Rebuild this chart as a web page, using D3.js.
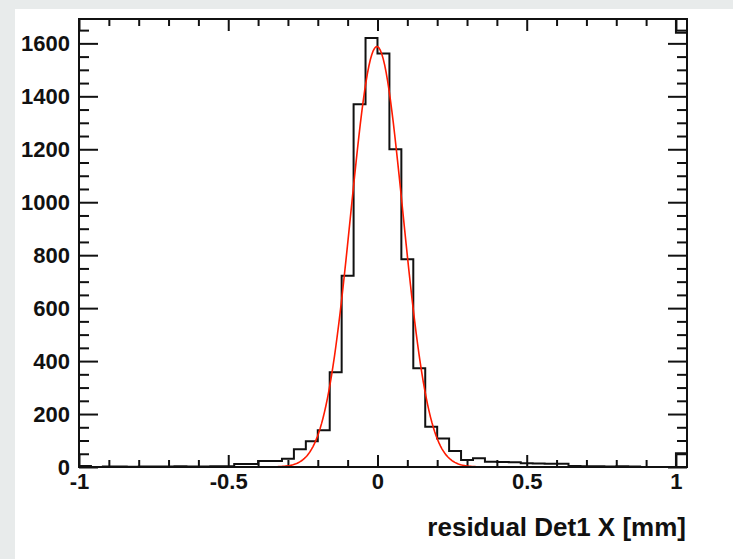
<!DOCTYPE html>
<html>
<head>
<meta charset="utf-8">
<script src="https://cdn.jsdelivr.net/npm/d3@7"></script>
<style>
  html, body { margin: 0; padding: 0; background: #e8ebeb; }
  svg { display: block; }
  text { font-family: "Liberation Sans", Arial, Helvetica, sans-serif; font-weight: bold; fill: #111; }
</style>
</head>
<body>
<script>
// ---- data ----
const binStart = -1.0;
const binWidth = 0.04;
// counts per bin, from x=-1.00 to x=1.04 (51 bins)
const counts = [
  4, 0, 2, 2, 1, 2, 2, 2, 3, 2, 2, 3, 3,      // -1.00 .. -0.52
  11, 11, 23, 23, 31, 67, 97, 139, 358, 722, 1370, 1620, // -0.48 .. -0.04
  1562, 1200, 785, 373, 152, 108, 60, 26, 33, 20, 19, 18, // 0.00 .. 0.44
  14, 13, 12, 12, 4, 3, 3, 2, 3, 2, 0, 0, 0,  // 0.48 .. 0.96
  52                                          // 1.00
];
// Gaussian fit parameters
const fitConstant = 1588;
const fitMean = -0.002;
const fitSigma = 0.087;
const fitRange = [-0.48, 0.48];

const xDomain = [-1, 1.037];
const yDomain = [0, 1692];
const xMajorTicks = [-1, -0.5, 0, 0.5, 1];
const xTickLabels = ["-1", "-0.5", "0", "0.5", "1"];
const yMajorTicks = [0, 200, 400, 600, 800, 1000, 1200, 1400, 1600];
const xMinorStep = 0.1;
const yMinorStep = 50;
const xTitle = "residual Det1 X [mm]";

// ---- layout ----
const W = 733, H = 559;
const frame = { left: 79, right: 687, top: 19, bottom: 467 };

const svg = d3.select("body").append("svg").attr("width", W).attr("height", H);

// slide-like background
svg.append("rect").attr("x", 15).attr("y", 9).attr("width", W - 15).attr("height", H - 9).attr("fill", "#fff");

const x = d3.scaleLinear().domain(xDomain).range([frame.left, frame.right]);
const y = d3.scaleLinear().domain(yDomain).range([frame.bottom, frame.top]);

const xMinor = d3.range(-1, 1.0001, xMinorStep).map(v => +v.toFixed(2)).filter(v => !xMajorTicks.some(m => Math.abs(m - v) < 1e-6));
const yMinor = d3.range(0, yDomain[1], yMinorStep).filter(v => v % 200 !== 0);

function styleAxis(g) {
  g.select(".domain").remove();
  g.selectAll(".tick line").attr("stroke", "#111").attr("stroke-width", 2);
  g.selectAll("text").attr("font-size", 22).attr("fill", "#111");
}

// left axis
svg.append("g").attr("transform", `translate(${frame.left},0)`)
  .call(d3.axisLeft(y).tickValues(yMajorTicks).tickSize(-19).tickPadding(9).tickFormat(d3.format("d")))
  .call(styleAxis);
svg.append("g").attr("transform", `translate(${frame.left},0)`)
  .call(d3.axisLeft(y).tickValues(yMinor).tickSize(-10).tickFormat(""))
  .call(styleAxis);
// right axis
svg.append("g").attr("transform", `translate(${frame.right},0)`)
  .call(d3.axisRight(y).tickValues(yMajorTicks).tickSize(-19).tickFormat(""))
  .call(styleAxis);
svg.append("g").attr("transform", `translate(${frame.right},0)`)
  .call(d3.axisRight(y).tickValues(yMinor).tickSize(-10).tickFormat(""))
  .call(styleAxis);
// bottom axis
svg.append("g").attr("transform", `translate(0,${frame.bottom})`)
  .call(d3.axisBottom(x).tickValues(xMajorTicks).tickSize(-12).tickPadding(6).tickFormat((d, i) => xTickLabels[i]))
  .call(styleAxis);
svg.append("g").attr("transform", `translate(0,${frame.bottom})`)
  .call(d3.axisBottom(x).tickValues(xMinor).tickSize(-7).tickFormat(""))
  .call(styleAxis);
// top axis
svg.append("g").attr("transform", `translate(0,${frame.top})`)
  .call(d3.axisTop(x).tickValues(xMajorTicks).tickSize(-12).tickFormat(""))
  .call(styleAxis);
svg.append("g").attr("transform", `translate(0,${frame.top})`)
  .call(d3.axisTop(x).tickValues(xMinor).tickSize(-7).tickFormat(""))
  .call(styleAxis);

// histogram outline
const pts = [[binStart, 0]];
counts.forEach((c, i) => {
  const x0 = binStart + i * binWidth;
  pts.push([x0, c], [x0 + binWidth, c]);
});
pts.push([binStart + counts.length * binWidth, 0]);
svg.append("path")
  .attr("d", d3.line().x(d => x(Math.min(d[0], xDomain[1]))).y(d => y(d[1]))(pts))
  .attr("fill", "none").attr("stroke", "#111").attr("stroke-width", 2);

// corner box at top right (mirrors last bin)
const last = counts[counts.length - 1];
const lastX0 = binStart + (counts.length - 1) * binWidth;
svg.append("path")
  .attr("d", d3.line()([[x(lastX0), y(yDomain[1])], [x(lastX0), y(yDomain[1] - last)], [x(xDomain[1]), y(yDomain[1] - last)]]))
  .attr("fill", "none").attr("stroke", "#111").attr("stroke-width", 2);

// Gaussian fit curve
const nFit = 200;
const fitPts = d3.range(nFit + 1).map(i => {
  const xv = fitRange[0] + (fitRange[1] - fitRange[0]) * i / nFit;
  return [xv, fitConstant * Math.exp(-0.5 * Math.pow((xv - fitMean) / fitSigma, 2))];
});
svg.append("path")
  .attr("d", d3.line().x(d => x(d[0])).y(d => y(d[1]))(fitPts))
  .attr("fill", "none").attr("stroke", "#ff1a00").attr("stroke-width", 1.6);

// frame
svg.append("rect")
  .attr("x", frame.left).attr("y", frame.top)
  .attr("width", frame.right - frame.left).attr("height", frame.bottom - frame.top)
  .attr("fill", "none").attr("stroke", "#111").attr("stroke-width", 2);

// axis title
svg.append("text")
  .attr("x", frame.right - 1).attr("y", 536)
  .attr("text-anchor", "end").attr("font-size", 26)
  .text(xTitle);
</script>
</body>
</html>
